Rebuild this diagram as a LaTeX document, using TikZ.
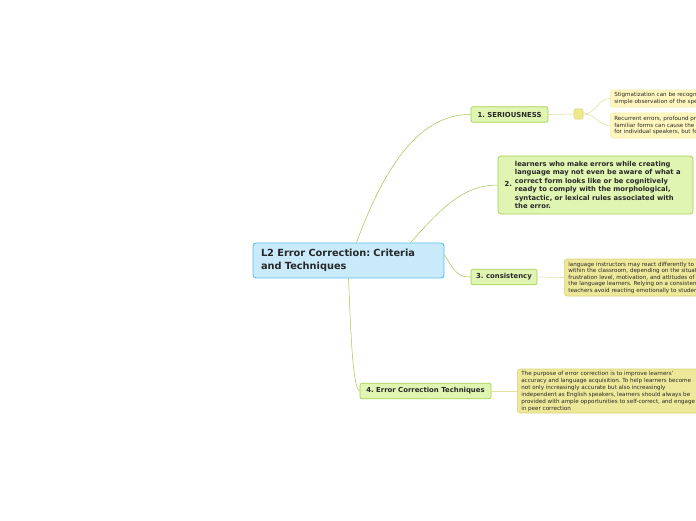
\documentclass[tikz,border=0pt]{standalone}
\usepackage{fontspec}
\setmainfont{DejaVu Sans}
\usetikzlibrary{calc}
\frenchspacing
\definecolor{RootFill}{RGB}{200,234,251}
\definecolor{RootLine}{RGB}{92,192,238}
\definecolor{TopicFill}{RGB}{224,245,178}
\definecolor{TopicLine}{RGB}{166,206,78}
\definecolor{NoteFill}{RGB}{255,247,190}
\definecolor{NoteLine}{RGB}{248,236,170}
\definecolor{MemoFill}{RGB}{238,232,154}
\definecolor{MemoLine}{RGB}{218,210,120}
\definecolor{BranchGreen}{RGB}{160,196,70}
\definecolor{TwigYellow}{RGB}{228,224,160}
\definecolor{InkDark}{RGB}{40,40,40}

\begin{document}
\begin{tikzpicture}[x=1pt,y=-1pt, every node/.style={text=InkDark},
  root/.style={draw=RootLine, fill=RootFill, line width=0.9pt, rounded corners=3pt,
    minimum width=191pt, minimum height=35pt, inner xsep=8pt, text width=175pt, align=left,
    font=\bfseries\fontsize{9.8}{13}\selectfont},
  topic/.style={draw=TopicLine, fill=TopicFill, line width=0.7pt, rounded corners=2pt,
    minimum height=15.5pt, inner sep=0pt, font=\bfseries\fontsize{6.9}{8}\selectfont},
  note/.style={draw=NoteLine, fill=NoteFill, line width=0.6pt, rounded corners=3pt,
    anchor=west, inner xsep=4pt, inner ysep=0pt, align=left,
    font=\fontsize{5.6}{6.5}\selectfont},
  memo/.style={note, draw=MemoLine, fill=MemoFill},
  branch/.style={draw=BranchGreen, line width=0.5pt},
  twig/.style={draw=TwigYellow, line width=0.6pt}]
  \useasboundingbox (0,0) rectangle (696,520);
  \clip (0,0) rectangle (696,520);

  \node[root] (root) at (348.5,260.5) {L2 Error Correction: Criteria\\and Techniques};

  \node[topic, minimum width=77pt] (serious) at (509.5,114.5) {1. SERIOUSNESS};
  \node[topic, minimum width=195pt, minimum height=58pt, rounded corners=3pt] (learners) at (595.5,185)
    {\hspace{3.5pt}2.\hspace{3pt}\parbox[c]{175pt}{\fontsize{6.8}{8.4}\selectfont
      learners who make errors while creating\\
      language may not even be aware of what a\\
      correct form looks like or be cognitively\\
      ready to comply with the morphological,\\
      syntactic, or lexical rules associated with\\
      the error.}\hfill};
  \node[topic, minimum width=66pt] (consist) at (504,277) {3. consistency};
  \node[topic, minimum width=131pt] (techniq) at (425.5,391) {4. Error Correction Techniques};

  \node[draw=MemoLine, fill=MemoFill!90!yellow, line width=0.6pt, rounded corners=1.5pt,
    minimum width=9pt, minimum height=10pt, inner sep=0pt] (knot) at (578.5,114) {};

  \node[note, minimum height=17pt] (stigma) at (610,98.5)
    {Stigmatization can be recognized\\simple observation of the speaker};
  \node[note, minimum height=25pt] (recur) at (610,125.5)
    {Recurrent errors, profound problems\\familiar forms can cause the frustration\\for individual speakers, but for the};
  \node[memo, minimum height=37pt] (react) at (564,277.5)
    {language instructors may react differently to errors\\
     within the classroom, depending on the situation,\\
     frustration level, motivation, and attitudes of the\\
     the language learners. Relying on a consistent plan\\
     teachers avoid reacting emotionally to students};
  \node[memo, minimum height=44pt, font=\fontsize{5.6}{7}\selectfont] (purpose) at (517,391)
    {The purpose of error correction is to improve learners'\\
     accuracy and language acquisition. To help learners become\\
     not only increasingly accurate but also increasingly\\
     independent as English speakers, learners should always be\\
     provided with ample opportunities to self-correct, and engage\\
     in peer correction\phantom{xxxxxxxxxxxxxxxxxxxxxxxxxxxxxxxxxx}};

  % branches from the central topic
  \draw[branch] ([xshift=104pt]root.north west) .. controls (385,165) and (420,114) .. (serious.west);
  \draw[branch] ([xshift=158pt]root.north west) .. controls (440,210) and (462,185) .. (learners.west);
  \draw[branch] ([yshift=-12pt]root.north east) .. controls (456,275) and (460,277) .. (consist.west);
  \draw[branch] ([xshift=96pt]root.south west) .. controls (351,340) and (353,388) .. (techniq.west);

  % twigs to the notes
  \draw[twig] (serious.east) -- (knot.west);
  \draw[twig] (knot.east) .. controls (596,114) and (598,98.5) .. (stigma.west);
  \draw[twig] (knot.east) .. controls (596,114) and (598,125.5) .. (recur.west);
  \draw[twig] (consist.east) -- (react.west);
  \draw[twig] (techniq.east) -- (purpose.west);
\end{tikzpicture}
\end{document}
